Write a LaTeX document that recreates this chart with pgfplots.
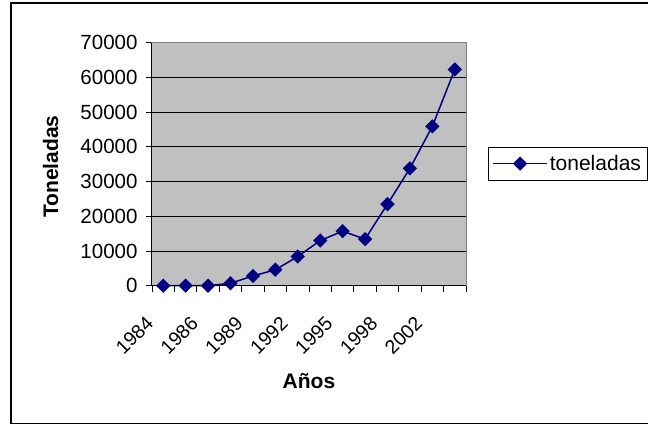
\documentclass[border=0pt]{standalone}
\usepackage{fontspec}
\setmainfont{Liberation Sans}
\usepackage{pgfplots}
\pgfplotsset{compat=1.18}
\definecolor{navy}{RGB}{0,0,128}
\definecolor{plotgray}{RGB}{192,192,192}
\definecolor{bordergray}{RGB}{128,128,128}
\begin{document}
\begin{tikzpicture}[x=1pt,y=1pt]
\useasboundingbox (0,0) rectangle (648,425);
\draw[line width=1.5pt] (11,1.5) rectangle (660,422);
\begin{axis}[
  at={(152pt,139.3pt)}, anchor=south west,
  scale only axis, width=314pt, height=243pt,
  xmin=-0.5, xmax=13.5, ymin=0, ymax=70000,
  ytick={0,10000,...,70000},
  scaled y ticks=false,
  /pgf/number format/.cd, fixed, 1000 sep={}, assume math mode=true, /pgfplots/.cd,
  ticklabel style={font=\fontsize{20.5}{24}\selectfont},
  yticklabel style={xshift=-5pt},
  ymajorgrids, grid style={black, line width=0.9pt},
  axis background/.style={fill=plotgray},
  xtick={0,2,4,6,8,10,12},
  xticklabels={1984,1986,1989,1992,1995,1998,2002},
  major x tick style={draw=none},
  minor xtick={-0.5,0.5,...,13.5},
  xtick pos=bottom, ytick pos=left,
  tick align=outside,
  major tick length=6pt, minor tick length=6pt,
  tick style={black, line width=0.9pt},
  xticklabel style={rotate=45, anchor=north east, xshift=-26pt, font=\fontsize{19.5}{24}\selectfont},
  axis line style={draw=bordergray, line width=1pt},
  xlabel={\bfseries Años},
  xlabel style={at={(axis description cs:0.5,-0.425)}, anchor=base, font=\fontsize{21}{24}\selectfont},
  ylabel={\bfseries Toneladas},
  ylabel style={at={(axis description cs:-0.3226,0.49)}, anchor=center, font=\fontsize{21}{24}\selectfont},
  legend style={at={(axis description cs:1.070,0.502)}, anchor=west, draw=black, line width=0.8pt,
    font=\fontsize{21}{24}\selectfont, inner xsep=4pt, inner ysep=6pt},
  legend image code/.code={\draw[mark repeat=2,mark phase=2,#1] plot coordinates {(0pt,0pt) (27pt,0pt) (54pt,0pt)};},
  clip=false,
]
\addplot[navy, line width=1.5pt, mark=square*, mark size=4.3pt, mark options={rotate=45, fill=navy, solid}]
coordinates {
(0,0) (1,0) (2,0) (3,700) (4,2800) (5,4600) (6,8400) (7,13000)
(8,15700) (9,13400) (10,23500) (11,33800) (12,45900) (13,62300)
};
\addlegendentry{toneladas}
\draw[black, line width=1pt] (axis description cs:0,0) -- (axis description cs:0,1);
\draw[black, line width=1pt] (axis description cs:0,0) -- (axis description cs:1,0);
\end{axis}
\end{tikzpicture}
\end{document}
